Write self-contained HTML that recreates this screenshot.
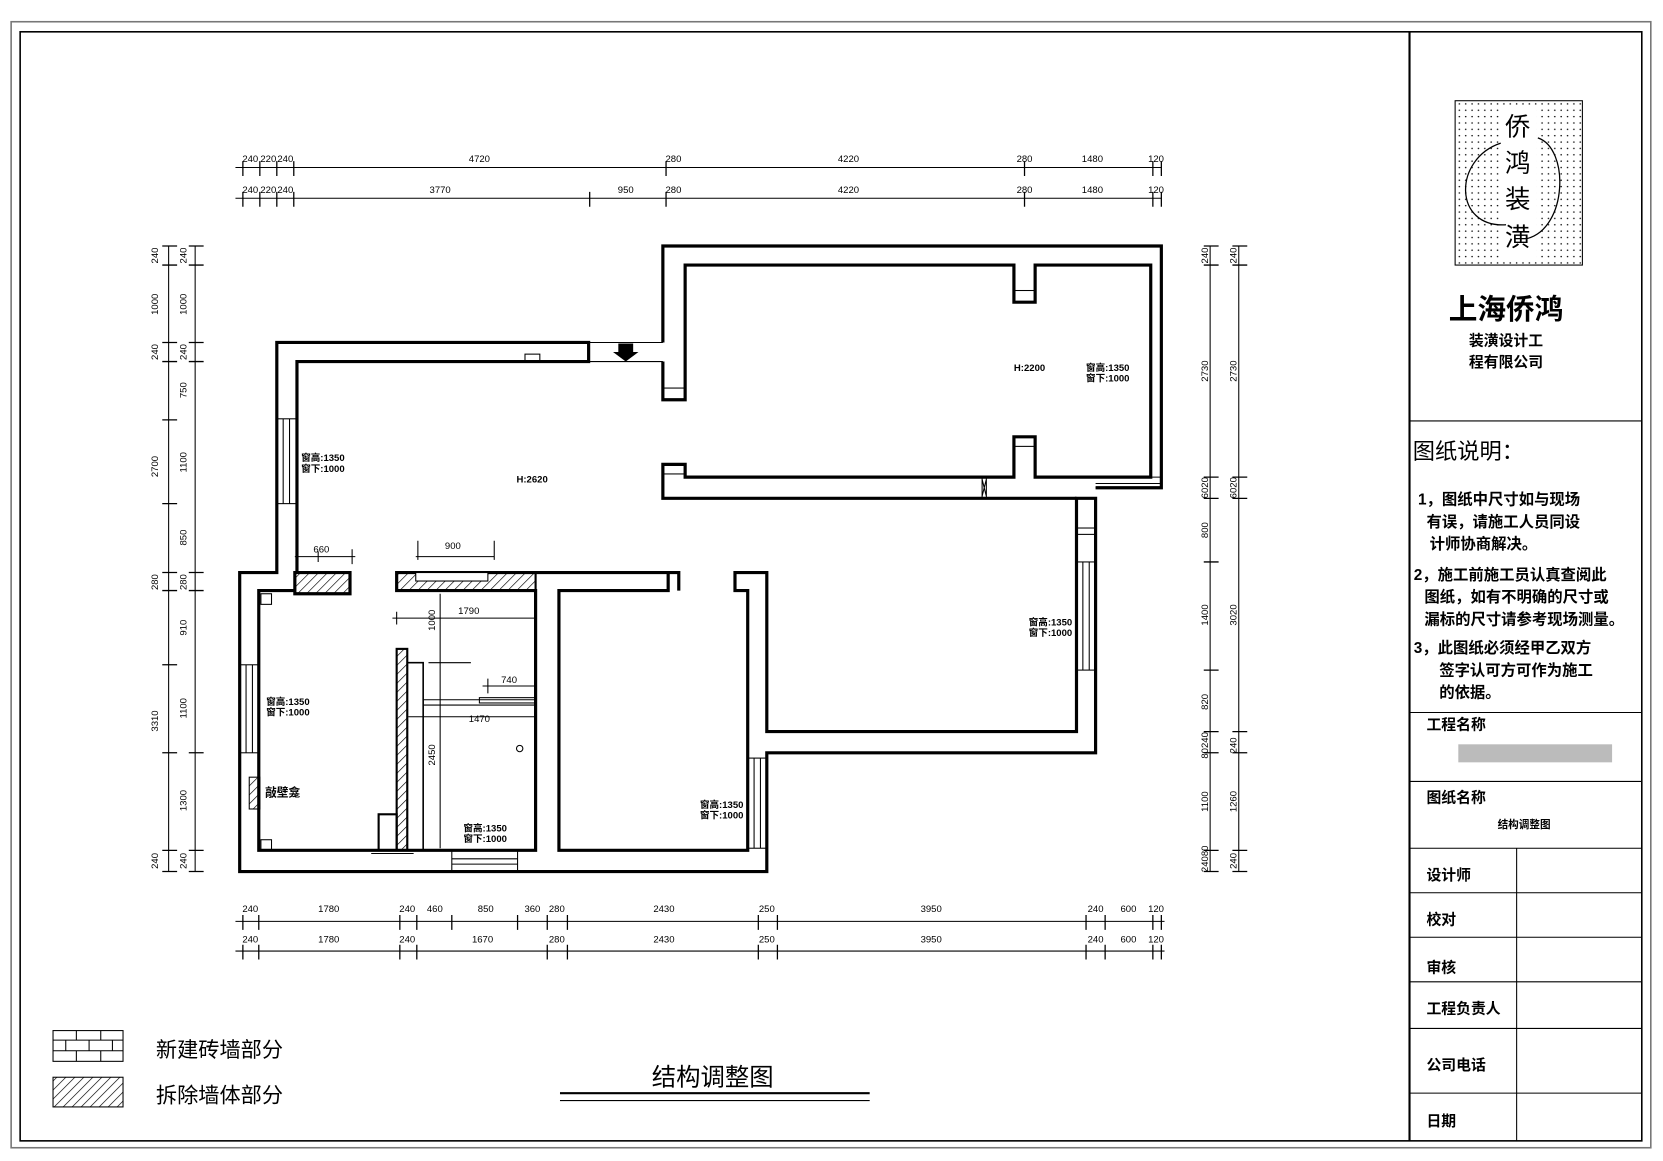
<!DOCTYPE html>
<html><head><meta charset="utf-8"><style>
html,body{margin:0;padding:0;background:#fff;}
svg{display:block;}
text{font-family:"Liberation Sans","Noto Sans CJK SC",sans-serif;fill:#000;}
.d{font-size:9px;font-family:"Liberation Sans Narrow","Liberation Sans",sans-serif;}
.w{fill:none;stroke:#000;stroke-width:3;}
.t{fill:none;stroke:#000;stroke-width:1;}
.m{font-size:9px;font-weight:bold;}
</style></head><body>
<svg width="1663" height="1161" viewBox="0 0 1568 1095" preserveAspectRatio="none" xmlns="http://www.w3.org/2000/svg">
<defs>
<pattern id="hat" width="6" height="6" patternUnits="userSpaceOnUse" patternTransform="rotate(45)"><line x1="0" y1="0" x2="0" y2="6" stroke="#000" stroke-width="1.2"/></pattern>
<pattern id="dot" width="6" height="6" patternUnits="userSpaceOnUse"><circle cx="2" cy="2" r="0.7" fill="#000"/></pattern>
</defs>
<rect x="0" y="0" width="1568" height="1095" fill="#fff"/>
<!-- frames -->
<rect x="10.5" y="20.5" width="1546" height="1062" fill="none" stroke="#777" stroke-width="1.5"/>
<rect x="19" y="30" width="1529" height="1046" fill="none" stroke="#000" stroke-width="1.5"/>
<line x1="1329" y1="30" x2="1329" y2="1076" stroke="#000" stroke-width="2"/>
<!-- title block -->
<rect x="1372" y="95" width="120" height="155" fill="url(#dot)" stroke="#000"/>
<rect x="1413" y="100" width="36" height="145" fill="#fff"/>
<path d="M1415,135 C1370,150 1370,215 1420,212 M1450,130 C1480,140 1478,215 1440,225" fill="none" stroke="#000" stroke-width="1.2"/>
<text x="1431" y="128" font-size="24" text-anchor="middle">侨</text>
<text x="1431" y="162" font-size="24" text-anchor="middle">鸿</text>
<text x="1431" y="196" font-size="24" text-anchor="middle">装</text>
<text x="1431" y="232" font-size="24" text-anchor="middle">潢</text>
<text x="1420" y="301" font-size="27" font-weight="bold" text-anchor="middle">上海侨鸿</text>
<text x="1420" y="326" font-size="14" font-weight="bold" text-anchor="middle">装潢设计工</text>
<text x="1420" y="346" font-size="14" font-weight="bold" text-anchor="middle">程有限公司</text>
<line x1="1329" y1="397" x2="1548" y2="397" class="t"/>
<text x="1332" y="433" font-size="21">图纸说明：</text>
<g font-size="14.5" font-weight="bold">
<text x="1337" y="476">1，图纸中尺寸如与现场</text>
<text x="1345" y="497">有误，请施工人员同设</text>
<text x="1348" y="518">计师协商解决。</text>
<text x="1333" y="547">2，施工前施工员认真查阅此</text>
<text x="1343" y="568">图纸，如有不明确的尺寸或</text>
<text x="1343" y="589">漏标的尺寸请参考现场测量。</text>
<text x="1333" y="616">3，此图纸必须经甲乙双方</text>
<text x="1357" y="637">签字认可方可作为施工</text>
<text x="1357" y="658">的依据。</text>
</g>
<line x1="1329" y1="672" x2="1548" y2="672" class="t"/>
<text x="1345" y="688" font-size="14" font-weight="bold">工程名称</text>
<rect x="1375" y="702" width="145" height="17" fill="#bbb"/>
<line x1="1329" y1="737" x2="1548" y2="737" class="t"/>
<text x="1345" y="757" font-size="14" font-weight="bold">图纸名称</text>
<text x="1437" y="781" font-size="10" font-weight="bold" text-anchor="middle">结构调整图</text>
<g class="t"><line x1="1329" y1="800" x2="1548" y2="800"/><line x1="1329" y1="842" x2="1548" y2="842"/><line x1="1329" y1="884" x2="1548" y2="884"/><line x1="1329" y1="926" x2="1548" y2="926"/><line x1="1329" y1="970" x2="1548" y2="970"/><line x1="1329" y1="1031" x2="1548" y2="1031"/><line x1="1430" y1="800" x2="1430" y2="1076"/></g>
<g font-size="14" font-weight="bold">
<text x="1345" y="830">设计师</text><text x="1345" y="872">校对</text><text x="1345" y="917">审核</text><text x="1345" y="956">工程负责人</text><text x="1345" y="1009">公司电话</text><text x="1345" y="1062">日期</text>
</g>
<!-- legend -->
<rect x="50" y="972" width="66" height="29" fill="none" stroke="#000"/>
<g class="t"><line x1="50" y1="981" x2="116" y2="981"/><line x1="50" y1="991" x2="116" y2="991"/><line x1="72" y1="972" x2="72" y2="981"/><line x1="95" y1="972" x2="95" y2="981"/><line x1="62" y1="981" x2="62" y2="991"/><line x1="84" y1="981" x2="84" y2="991"/><line x1="106" y1="981" x2="106" y2="991"/><line x1="72" y1="991" x2="72" y2="1001"/><line x1="95" y1="991" x2="95" y2="1001"/></g>
<rect x="50" y="1016" width="66" height="28" fill="url(#hat)" stroke="#000"/>
<text x="147" y="997" font-size="20">新建砖墙部分</text>
<text x="147" y="1040" font-size="20">拆除墙体部分</text>
<text x="672" y="1024" font-size="23" text-anchor="middle">结构调整图</text>
<line x1="528" y1="1031" x2="820" y2="1031" stroke="#000" stroke-width="2"/>
<line x1="528" y1="1038" x2="820" y2="1038" class="t"/>
<!-- top dims -->
<g class="t"><line x1="222" y1="158" x2="1095" y2="158"/><line x1="222" y1="187" x2="1095" y2="187"/>
<line x1="222" y1="869" x2="1098" y2="869"/><line x1="222" y1="897" x2="1098" y2="897"/>
<line x1="159" y1="232" x2="159" y2="822"/><line x1="184" y1="232" x2="184" y2="822"/>
<line x1="1141" y1="232" x2="1141" y2="822"/><line x1="1168" y1="232" x2="1168" y2="822"/></g>
<g stroke="#000" stroke-width="1.2">
<path d="M229,152v14M245,152v14M261,152v14M277,152v14M628,152v14M966,152v14M1087,152v14M1095,152v14"/>
<path d="M229,181v14M245,181v14M261,181v14M277,181v14M556,181v14M628,181v14M966,181v14M1087,181v14M1095,181v14"/>
<path d="M229,863v14M244,863v14M377,863v14M393,863v14M426,863v14M488,863v14M516,863v14M535,863v14M715,863v14M733,863v14M1024,863v14M1042,863v14M1087,863v14M1095,863v14"/>
<path d="M229,891v14M244,891v14M377,891v14M393,891v14M516,891v14M535,891v14M715,891v14M733,891v14M1024,891v14M1042,891v14M1087,891v14M1095,891v14"/>
<path d="M153,232h14M153,250h14M153,323h14M153,341h14M153,396h14M153,475h14M153,540h14M153,557h14M153,627h14M153,710h14M153,802h14M153,822h14"/>
<path d="M178,232h14M178,250h14M178,323h14M178,341h14M178,540h14M178,557h14M178,710h14M178,802h14M178,822h14"/>
<path d="M1135,232h14M1135,250h14M1135,450h14M1135,470h14M1135,530h14M1135,632h14M1135,690h14M1135,710h14M1135,802h14M1135,822h14"/>
<path d="M1162,232h14M1162,250h14M1162,450h14M1162,470h14M1162,690h14M1162,710h14M1162,802h14M1162,822h14"/>
</g>
<g class="d" text-anchor="middle">
<text x="236" y="153">240</text><text x="253" y="153">220</text><text x="269" y="153">240</text><text x="452" y="153">4720</text><text x="635" y="153">280</text><text x="800" y="153">4220</text><text x="966" y="153">280</text><text x="1030" y="153">1480</text><text x="1090" y="153">120</text>
<text x="236" y="182">240</text><text x="253" y="182">220</text><text x="269" y="182">240</text><text x="415" y="182">3770</text><text x="590" y="182">950</text><text x="635" y="182">280</text><text x="800" y="182">4220</text><text x="966" y="182">280</text><text x="1030" y="182">1480</text><text x="1090" y="182">120</text>
<text x="236" y="860">240</text><text x="310" y="860">1780</text><text x="384" y="860">240</text><text x="410" y="860">460</text><text x="458" y="860">850</text><text x="502" y="860">360</text><text x="525" y="860">280</text><text x="626" y="860">2430</text><text x="723" y="860">250</text><text x="878" y="860">3950</text><text x="1033" y="860">240</text><text x="1064" y="860">600</text><text x="1090" y="860">120</text>
<text x="236" y="889">240</text><text x="310" y="889">1780</text><text x="384" y="889">240</text><text x="455" y="889">1670</text><text x="525" y="889">280</text><text x="626" y="889">2430</text><text x="723" y="889">250</text><text x="878" y="889">3950</text><text x="1033" y="889">240</text><text x="1064" y="889">600</text><text x="1090" y="889">120</text>
</g>
<g class="d" text-anchor="middle">
<text transform="translate(149,241) rotate(-90)">240</text><text transform="translate(149,287) rotate(-90)">1000</text><text transform="translate(149,332) rotate(-90)">240</text><text transform="translate(149,440) rotate(-90)">2700</text><text transform="translate(149,549) rotate(-90)">280</text><text transform="translate(149,680) rotate(-90)">3310</text><text transform="translate(149,812) rotate(-90)">240</text>
<text transform="translate(176,241) rotate(-90)">240</text><text transform="translate(176,287) rotate(-90)">1000</text><text transform="translate(176,332) rotate(-90)">240</text><text transform="translate(176,368) rotate(-90)">750</text><text transform="translate(176,436) rotate(-90)">1100</text><text transform="translate(176,507) rotate(-90)">850</text><text transform="translate(176,549) rotate(-90)">280</text><text transform="translate(176,592) rotate(-90)">910</text><text transform="translate(176,668) rotate(-90)">1100</text><text transform="translate(176,755) rotate(-90)">1300</text><text transform="translate(176,812) rotate(-90)">240</text>
<text transform="translate(1139,241) rotate(-90)">240</text><text transform="translate(1139,350) rotate(-90)">2730</text><text transform="translate(1139,460) rotate(-90)">6020</text><text transform="translate(1139,500) rotate(-90)">800</text><text transform="translate(1139,580) rotate(-90)">1400</text><text transform="translate(1139,662) rotate(-90)">820</text><text transform="translate(1139,703) rotate(-90)">80240</text><text transform="translate(1139,756) rotate(-90)">1100</text><text transform="translate(1139,810) rotate(-90)">24080</text>
<text transform="translate(1166,241) rotate(-90)">240</text><text transform="translate(1166,350) rotate(-90)">2730</text><text transform="translate(1166,460) rotate(-90)">6020</text><text transform="translate(1166,580) rotate(-90)">3020</text><text transform="translate(1166,703) rotate(-90)">240</text><text transform="translate(1166,756) rotate(-90)">1260</text><text transform="translate(1166,812) rotate(-90)">240</text>
</g>
<!-- walls -->
<g class="w">
<path d="M280,540V341H555V323H261V540H226V822H723V710H1033V470H1015V690H723V540H693V557H705V802H527V557H630V540H374V557H505V802H244V557H278"/>
<path d="M625,323V232H1095V460H1033M1015,470H625V438H646V450H956V412H976V450H1085V250H976V285H956V250H646V377H625V341"/>
<path d="M630,540H640V557M278,540h52v20h-52z"/>
</g>
<rect x="278" y="540" width="52" height="20" fill="url(#hat)" stroke="#000" stroke-width="2"/>
<rect x="374" y="540" width="131" height="17" fill="url(#hat)" stroke="#000" stroke-width="2"/>
<rect x="392" y="540" width="68" height="8" fill="#fff" stroke="#000"/>
<rect x="374" y="612" width="10" height="190" fill="url(#hat)" stroke="#000" stroke-width="2"/>
<rect x="384" y="625" width="15" height="177" fill="none" stroke="#000" stroke-width="1.5"/>
<rect x="357" y="768" width="17" height="34" fill="none" stroke="#000" stroke-width="2"/>
<rect x="235" y="733" width="10" height="30" fill="url(#hat)" stroke="#000"/>
<!-- windows/doors -->
<g class="t">
<rect x="261" y="395" width="19" height="80"/><line x1="267" y1="395" x2="267" y2="475"/><line x1="273" y1="395" x2="273" y2="475"/>
<rect x="226" y="627" width="18" height="83"/><line x1="232" y1="627" x2="232" y2="710"/><line x1="238" y1="627" x2="238" y2="710"/>
<rect x="1015" y="530" width="18" height="102"/><line x1="1021" y1="530" x2="1021" y2="632"/><line x1="1027" y1="530" x2="1027" y2="632"/>
<rect x="705" y="715" width="18" height="85"/><line x1="711" y1="715" x2="711" y2="800"/><line x1="717" y1="715" x2="717" y2="800"/>
<rect x="426" y="802" width="62" height="20"/><line x1="426" y1="810" x2="488" y2="810"/><line x1="426" y1="815" x2="488" y2="815"/>
<line x1="555" y1="323" x2="625" y2="323"/><line x1="555" y1="341" x2="625" y2="341"/>
<rect x="625" y="366" width="21" height="11"/><rect x="625" y="438" width="21" height="9"/><rect x="956" y="274" width="20" height="11"/><rect x="956" y="412" width="20" height="9"/>
<path d="M1033,450H1095M1033,456H1095M1033,460H1095"/>
<path d="M926,450v20M930,450v20M926,452l4,16M930,452l-4,16"/>
<rect x="1015" y="498" width="18" height="6"/>
<rect x="495" y="334" width="14" height="7"/>
<rect x="246" y="560" width="10" height="10"/><rect x="246" y="792" width="10" height="10"/>
<path d="M399,660H505M399,665H505"/><rect x="452" y="658" width="53" height="5"/>
<path d="M278,525h57M300,520v10M332,518v14M392,525h74M394,510v18M466,510v18M370,583h135M374,577v12M415,560v240M404,625h40M455,647h50M460,640v14M385,676h120M350,805h40"/>
</g>
<path d="M583,324h14v8h5l-12,9l-12,-9h5z" fill="#000"/>
<circle cx="490" cy="706" r="3" fill="none" stroke="#000"/>
<!-- labels -->
<g class="m">
<text x="284" y="435">窗高:1350</text><text x="284" y="445">窗下:1000</text>
<text x="251" y="665">窗高:1350</text><text x="251" y="675">窗下:1000</text>
<text x="1024" y="350">窗高:1350</text><text x="1024" y="360">窗下:1000</text>
<text x="970" y="590">窗高:1350</text><text x="970" y="600">窗下:1000</text>
<text x="660" y="762">窗高:1350</text><text x="660" y="772">窗下:1000</text>
<text x="437" y="784">窗高:1350</text><text x="437" y="794">窗下:1000</text>
<text x="487" y="455">H:2620</text><text x="956" y="350">H:2200</text>
<text x="250" y="751" font-size="11">敲壁龛</text>
</g>
<g class="d" text-anchor="middle">
<text x="303" y="521">660</text><text x="427" y="518">900</text><text x="442" y="579">1790</text><text x="480" y="644">740</text><text x="452" y="681">1470</text>
<text transform="translate(410,585) rotate(-90)">1000</text><text transform="translate(410,712) rotate(-90)">2450</text>
</g>
</svg>
</body></html>
